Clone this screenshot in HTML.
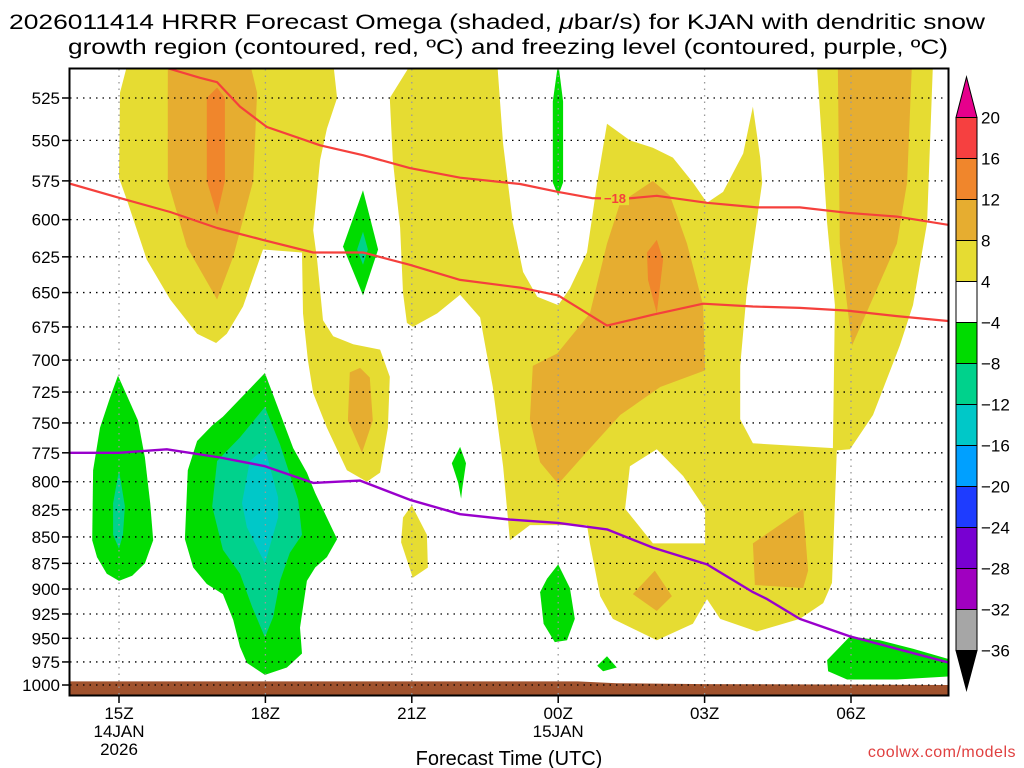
<!DOCTYPE html>
<html><head><meta charset="utf-8">
<style>
html,body{margin:0;padding:0;background:#fff;}
svg{display:block;font-family:"Liberation Sans","DejaVu Sans",sans-serif;}
</style></head>
<body>
<svg id="chart" width="1024" height="768" viewBox="0 0 1024 768" xmlns="http://www.w3.org/2000/svg">
<rect x="0" y="0" width="1024" height="768" fill="#fff"/>
<text x="497" y="29" font-size="21" text-anchor="middle" textLength="976" lengthAdjust="spacingAndGlyphs">2026011414 HRRR Forecast Omega (shaded, <tspan font-style="italic">μ</tspan>bar/s) for KJAN with dendritic snow</text>
<text x="508" y="54" font-size="21" text-anchor="middle" textLength="880" lengthAdjust="spacingAndGlyphs">growth region (contoured, red, ºC) and freezing level (contoured, purple, ºC)</text>
<defs><clipPath id="plotclip"><rect x="70" y="69" width="878" height="626"/></clipPath></defs>
<g id="fills" clip-path="url(#plotclip)"></g>
<g id="grid"></g>
<g id="lines" clip-path="url(#plotclip)"></g>
<g id="axes"></g>
<g id="cbar"></g>
<text x="509" y="765" font-size="20" text-anchor="middle">Forecast Time (UTC)</text>
<text x="1016" y="757" font-size="16" text-anchor="end" fill="#e04040" letter-spacing="0.5">coolwx.com/models</text>
</svg>
<script>
// ---- data ----
const pressureTicks=[525,550,575,600,625,650,675,700,725,750,775,800,825,850,875,900,925,950,975,1000];
const timeTickHours=[0,3,6,9,12,15];
const timeTickLabels=["15Z","18Z","21Z","00Z","03Z","06Z"];
const timeTickDates={0:["14JAN","2026"],9:["15JAN"]};
const cbLevels=[20,16,12,8,4,-4,-8,-12,-16,-20,-24,-28,-32,-36];
const cbColors=["#f64040","#f0862c","#e6ad30","#e6dc32","#ffffff","#00dc00","#00d28c","#00c8c8","#00a0ff","#1e3cff","#7800d2","#a000c0","#a6a6a6"];
const yellow1=[[.18,505],[.02,522],[0,573],[.16,587],[.57,627],[1.05,655],[1.6,680],[1.99,687],[2.21,680],[2.54,660],[2.95,620],[3.75,622],[3.77,665],[3.87,700],[3.98,726],[4.26,754],[4.67,790],[5.08,800],[5.35,792],[5.51,754],[5.55,713],[5.35,692],[4.8,688],[4.39,682],[4.18,670],[4.06,627],[3.98,607],[4.12,562],[4.26,543],[4.47,525],[4.39,505]];
const yellow2=[[6.0,505],[7.75,505],[7.87,552],[8.07,602],[8.28,635.5],[8.57,653],[9.0,659],[9.24,647],[9.59,622],[9.8,576],[10.0,540],[10.47,550],[10.94,554.5],[11.35,560.5],[11.76,576],[12.05,589],[12.38,582],[12.79,558],[12.99,530],[13.14,560.5],[13.18,576],[12.87,647],[12.73,704.5],[12.73,747],[12.99,767],[14.63,771],[14.67,659],[14.51,602],[14.3,505],[16.68,505],[16.56,602],[16.27,659],[16,689],[15.45,743.5],[14.98,772],[14.71,773],[14.61,894],[14.43,914],[13.95,930],[13.07,943],[12.32,930],[12.05,910],[11.76,935],[11.02,952],[10.12,930],[9.86,907],[9.65,856],[9.59,839],[8.42,839],[8.01,853],[7.87,786.5],[7.66,721],[7.4,668],[6.99,651.5],[6.52,665],[6.02,675],[5.9,672],[5.82,650],[5.76,605],[5.61,562],[5.55,525]];
const yellow3=[[6.0,821],[6.31,848],[6.33,879],[6.02,889],[5.78,855],[5.82,832]];
const whiteHole=[[10.47,786.5],[11.02,772],[11.56,795],[12.01,824],[12.01,856],[10.94,856],[10.37,824]];
const orange1=[[1.0,505],[1.0,575],[1.39,618],[2.01,655],[2.34,625],[2.75,575],[2.83,522],[2.68,505]];
const orange2=[[4.73,709.5],[4.94,706],[5.14,713.5],[5.2,748],[4.98,775],[4.69,748]];
const orange3=[[8.48,704.5],[8.98,695],[9.65,665],[10,616],[10.27,589],[10.94,575],[11.29,584.5],[11.64,616],[11.97,659],[12.01,708],[11.09,721],[10.27,743.5],[9.59,774],[9,802],[8.63,783],[8.42,747]];
const orange4=[[14.73,505],[16.25,505],[16.15,576],[15.94,616],[15.02,689],[14.77,616]];
const orange5=[[12.99,856],[14.02,824],[14.12,882],[14.02,899],[13.03,896]];
const orange6=[[10.53,905],[10.98,882],[11.33,907],[11.02,922]];
const darkOrange1=[[1.8,525],[2.01,519],[2.17,525],[2.17,575],[2.01,597],[1.8,575]];
const darkOrange2=[[10.82,622],[11.02,613.5],[11.15,627],[11.02,665],[10.84,641]];
const green1=[[-.02,712],[.39,748],[.53,779],[.64,819],[.70,853],[.53,875],[.27,887],[0,892],[-.25,885],[-.45,869],[-.55,853],[-.53,790],[-.39,754],[-.18,729]];
const green2=[[2.99,710],[3.57,771],[3.85,792],[4.02,810],[4.47,852],[4.26,869],[4.02,879],[3.85,892],[3.71,939],[3.75,966],[3.44,981],[2.99,989],[2.62,976],[2.48,959],[2.34,931],[2.13,905],[1.8,895],[1.52,879],[1.35,852],[1.41,790],[1.6,765],[1.91,752],[2.13,745]];
const green3=[[5.0,581],[5.31,620],[5.0,652],[4.59,618]];
const green4=[[6.99,770],[7.11,784],[7.03,807],[7.01,815],[6.95,801],[6.82,784]];
const green5=[[9,505],[9.1,527],[9.1,576],[9,584.5],[8.89,576],[8.89,527]];
const green6=[[9,876],[9.24,899],[9.34,930],[9.18,952],[8.93,954],[8.70,935],[8.63,903],[8.77,890]];
const green7=[[10,969],[10.2,981],[9.92,985],[9.8,979]];
const green8=[[14.51,973],[14.98,948],[15.59,952],[16.27,961],[17.2,975],[17.2,990],[15.94,994],[14.92,994],[14.53,985]];
const teal1=[[0,790],[.12,822],[.08,848],[0,861],[-.12,848],[-.12,819]];
const teal2=[[2.99,737],[3.30,768],[3.67,816],[3.75,848],[3.5,865],[3.30,892],[3.16,928],[2.99,949],[2.73,918],[2.48,885],[2.13,862],[1.91,822],[2.01,782],[2.48,762]];
const teal3=[[5.0,608],[5.1,620],[5.0,630.5],[4.88,620]];
const cyan1=[[2.99,771],[3.26,814],[3.26,832],[2.99,875],[2.62,841],[2.52,819],[2.68,782]];
const groundHours=[-1.2,9.4,10.2,12,17.2];
const groundPressure=[996,996,998,999,1000];
const freezingLevel=[[-1.2,775],[0,775],[.98,772],[2.07,779],[2.99,786.5],[3.98,801],[4.94,799],[5.96,816],[6.99,829],[8.01,834],[9,837],[10,843],[10.94,860],[12.05,876],[12.99,903],[13.28,910],[13.95,930],[14.98,948],[17.1,977]];
const dgzTop=[[.98,508],[1.66,513.5],[2.01,516],[2.48,530],[3.03,542],[4.12,553],[5,559],[5.96,567],[6.99,573],[8.22,577],[9,582],[9.69,586],[10.33,586.5],[11.02,584.5],[12.05,589],[13.07,592],[13.95,592],[14.92,595.5],[15.94,598],[17.1,604]];
const dgzBottom=[[-1.2,575],[.02,586],[1.05,595],[2.01,605.5],[2.95,613.5],[3.98,622],[5,622],[5.96,630.5],[6.99,641],[8.22,646.5],[9,652],[10,674],[10.94,666],[11.97,658],[12.99,660],[13.95,661],[14.92,663],[15.94,667],[17.1,671]];
const dgzLabel=[10.0,586,"−18"];

// ---- axes ----
function X(h){return 119+h*48.8;}
function Y(p){return 98+911*Math.log(p/525);}
const NS="http://www.w3.org/2000/svg";
function mk(tag,attrs,parent){const e=document.createElementNS(NS,tag);for(const k in attrs)e.setAttribute(k,attrs[k]);parent.appendChild(e);return e;}
function pts(arr){return arr.map(d=>X(d[0]).toFixed(1)+","+Y(d[1]).toFixed(1)).join(" ");}
const fills=document.getElementById('fills');
const shapes=[
 ["yellow-region-1",yellow1,"#e6dc32"],["yellow-region-2",yellow2,"#e6dc32"],["yellow-region-3",yellow3,"#e6dc32"],
 ["white-hole",whiteHole,"#ffffff"],
 ["orange-region-1",orange1,"#e6ad30"],["orange-region-2",orange2,"#e6ad30"],["orange-region-3",orange3,"#e6ad30"],["orange-region-4",orange4,"#e6ad30"],["orange-region-5",orange5,"#e6ad30"],["orange-region-6",orange6,"#e6ad30"],
 ["dark-orange-region-1",darkOrange1,"#f0862c"],["dark-orange-region-2",darkOrange2,"#f0862c"],
 ["green-region-1",green1,"#00dc00"],["green-region-2",green2,"#00dc00"],["green-region-3",green3,"#00dc00"],["green-region-4",green4,"#00dc00"],["green-region-5",green5,"#00dc00"],["green-region-6",green6,"#00dc00"],["green-region-7",green7,"#00dc00"],["green-region-8",green8,"#00dc00"],
 ["teal-region-1",teal1,"#00d28c"],["teal-region-2",teal2,"#00d28c"],["teal-region-3",teal3,"#00d28c"],
 ["cyan-region-1",cyan1,"#00c8c8"]];
shapes.forEach(s=>{
 const e=mk('polygon',{points:pts(s[1]),fill:s[2]},fills);
 
 
});
// ground
const gArr=groundHours.map((h,i)=>[h,groundPressure[i]]);
const gPts=pts(gArr)+" "+X(17.2)+",700 "+X(-1.2)+",700";
const ground=mk('polygon',{points:gPts,fill:"#a0522d"},fills);



// grid
const grid=document.getElementById('grid');
pressureTicks.forEach(p=>{
 const l=mk('line',{x1:70,x2:948,y1:Y(p),y2:Y(p),stroke:"#000","stroke-width":1.3,"stroke-dasharray":"1.5 5"},grid);
 
 
});
timeTickHours.forEach(h=>{
 const l=mk('line',{x1:X(h),x2:X(h),y1:69,y2:695,stroke:"#999","stroke-width":1.3,"stroke-dasharray":"1.5 5"},grid);
 
 
});

// lines
const lines=document.getElementById('lines');
function poly(arr,color,w,name){
 const e=mk('polyline',{points:pts(arr),fill:"none",stroke:color,"stroke-width":w,"stroke-linejoin":"round"},lines);
 
 
}
poly(dgzTop,"#f5403c",2.2,"dgz-isotherm-upper");
poly(dgzBottom,"#f5403c",2.2,"dgz-isotherm-lower");
poly(freezingLevel,"#9900cc",2.4,"freezing-level-line");
const lbx=X(dgzLabel[0])+8, lby=Y(dgzLabel[1]);
const lbg=mk('rect',{x:lbx-14,y:lby-7,width:28,height:14,fill:"#e6dc32"},lines);


const lt=mk('text',{x:lbx,y:lby+5,"font-size":13,"font-weight":"bold",fill:"#f5403c","text-anchor":"middle"},lines);
lt.textContent=dgzLabel[2];



// axes
const axes=document.getElementById('axes');
const frame=mk('rect',{x:69.5,y:68.5,width:879,height:627,fill:"none",stroke:"#000","stroke-width":2},axes);


pressureTicks.forEach(p=>{
 const t=mk('line',{x1:62,x2:70,y1:Y(p),y2:Y(p),stroke:"#000","stroke-width":1.5},axes);
 
 
 const tx=mk('text',{x:60,y:Y(p)+6,"font-size":17,"text-anchor":"end"},axes);
 tx.textContent=p;
 
 
});
timeTickHours.forEach((h,i)=>{
 const t=mk('line',{x1:X(h),x2:X(h),y1:695,y2:703,stroke:"#000","stroke-width":1.5},axes);
 
 
 const tx=mk('text',{x:X(h),y:719,"font-size":17,"text-anchor":"middle"},axes);
 tx.textContent=timeTickLabels[i];
 
 
 (timeTickDates[h]||[]).forEach((d,j)=>{
  const dx=mk('text',{x:X(h),y:737+j*18,"font-size":17,"text-anchor":"middle"},axes);
  dx.textContent=d;
  
  
 });
});

// colorbar
const cb=document.getElementById('cbar');
const cbX=956,cbW=21,cbTop=117.5,cbStep=41;
cbColors.forEach((c,i)=>{
 const r=mk('rect',{x:cbX,y:cbTop+i*cbStep,width:cbW,height:cbStep,fill:c,stroke:"#000","stroke-width":1},cb);
 
 
});
const tri1=mk('polygon',{points:`${cbX},${cbTop} ${cbX+cbW},${cbTop} ${cbX+cbW/2},77`,fill:"#e6008c",stroke:"#000","stroke-width":1},cb);


const bot=cbTop+cbColors.length*cbStep;
const tri2=mk('polygon',{points:`${cbX},${bot} ${cbX+cbW},${bot} ${cbX+cbW/2},690`,fill:"#000",stroke:"#000","stroke-width":1},cb);


cbLevels.forEach((v,i)=>{
 const t=mk('text',{x:981,y:cbTop+i*cbStep+6,"font-size":17},cb);
 t.textContent=v<0?"−"+Math.abs(v):String(v);
 
 
});
</script>
</body></html>
